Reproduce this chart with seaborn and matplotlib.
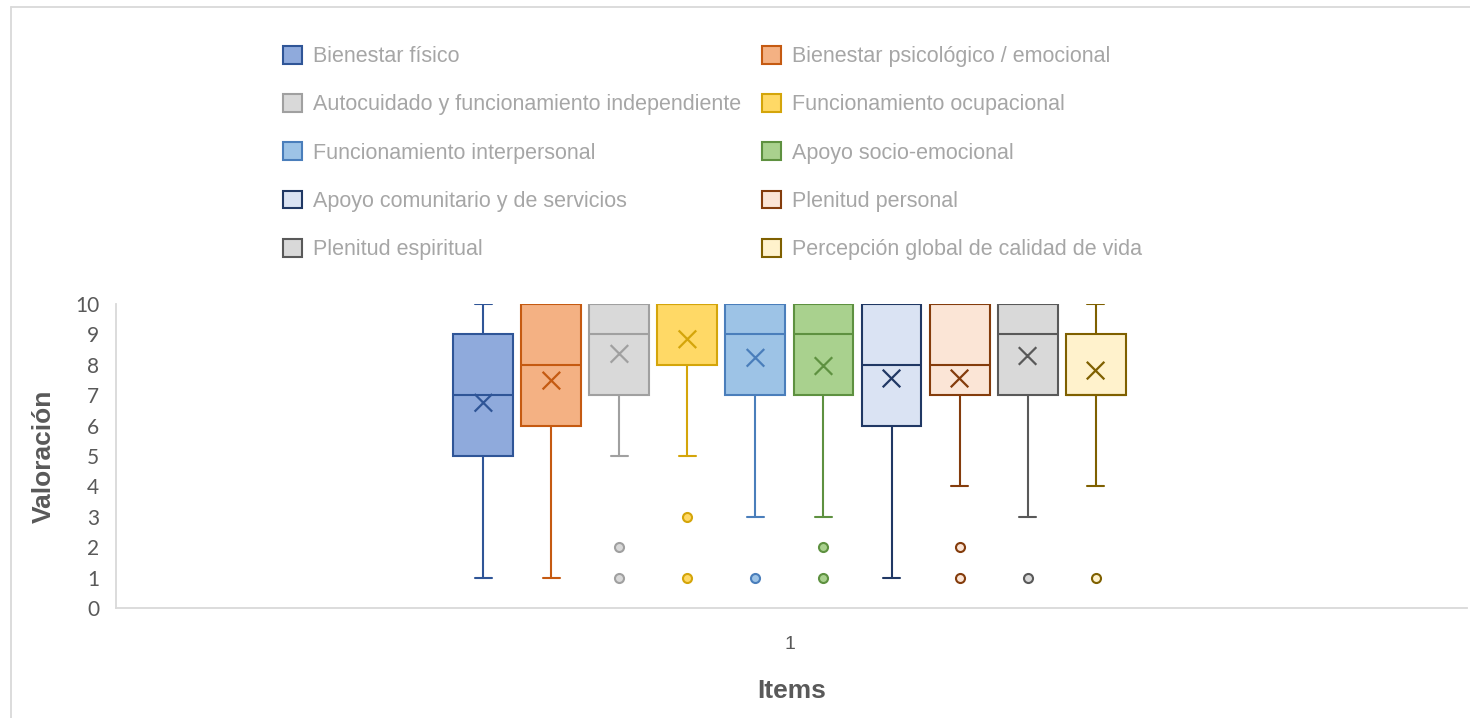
import numpy as np
import matplotlib
matplotlib.use("Agg")
import matplotlib.pyplot as plt
from matplotlib.patches import Patch
from matplotlib.lines import Line2D
import seaborn as sns

# ---- data -----------------------------------------------------------------
items = [
    "Bienestar físico",
    "Bienestar psicológico / emocional",
    "Autocuidado y funcionamiento independiente",
    "Funcionamiento ocupacional",
    "Funcionamiento interpersonal",
    "Apoyo socio-emocional",
    "Apoyo comunitario y de servicios",
    "Plenitud personal",
    "Plenitud espiritual",
    "Percepción global de calidad de vida",
]
category = "1"
q1 = [5, 6, 7, 8, 7, 7, 6, 7, 7, 7]
medians = [7, 8, 9, 10, 9, 9, 8, 8, 9, 7]
q3 = [9, 10, 10, 10, 10, 10, 10, 10, 10, 9]
whisker_low = [1, 1, 5, 5, 3, 3, 1, 4, 3, 4]
whisker_high = [10, 10, 10, 10, 10, 10, 10, 10, 10, 10]
means = [6.75, 7.48, 8.36, 8.84, 8.23, 7.96, 7.55, 7.55, 8.29, 7.81]
outliers = [[], [], [2, 1], [3, 1], [1], [2, 1], [], [2, 1], [1], [1]]
y_ticks = list(range(0, 11))

fill_colors = ["#8FAADC", "#F4B183", "#D9D9D9", "#FFD966", "#9DC3E6",
               "#A9D18E", "#DAE3F3", "#FBE5D6", "#D9D9D9", "#FFF2CC"]
edge_colors = ["#2F5597", "#C55A11", "#A0A0A0", "#D4A50A", "#4A7EBB",
               "#5E9140", "#203864", "#843C0C", "#595959", "#7F6000"]

# ---- style ----------------------------------------------------------------
sns.set_theme(style="white")
plt.rcParams["font.family"] = ["Liberation Sans", "DejaVu Sans"]
label_grey = "#595959"
legend_grey = "#A6A6A6"
axis_grey = "#D9D9D9"

fig = plt.figure(figsize=(14.7, 7.18), dpi=100)
ax = fig.add_axes([116 / 1470, 1 - 608 / 718, (1467 - 116) / 1470, (608 - 304) / 718])

# boxes are dodged side by side inside the single category
slot = 0.0505
box_w = 0.0445
cap_w = 0.0126
positions = (np.arange(len(items)) - (len(items) - 1) / 2) * slot

stats = []
for i, name in enumerate(items):
    stats.append(dict(label=name, q1=q1[i], med=medians[i], q3=q3[i],
                      whislo=whisker_low[i], whishi=whisker_high[i],
                      mean=means[i], fliers=outliers[i]))

art = ax.bxp(stats, positions=positions, widths=box_w, capwidths=cap_w,
             patch_artist=True, showmeans=False, manage_ticks=False)

lw = 1.5
for i in range(len(items)):
    ec, fc = edge_colors[i], fill_colors[i]
    art["boxes"][i].set(facecolor=fc, edgecolor=ec, linewidth=lw, zorder=2)
    art["medians"][i].set(color=ec, linewidth=lw, zorder=3)
    for ln in art["whiskers"][2 * i:2 * i + 2] + art["caps"][2 * i:2 * i + 2]:
        ln.set(color=ec, linewidth=lw, zorder=1)
    art["fliers"][i].set(marker="o", markersize=6.5, markerfacecolor=fc,
                         markeredgecolor=ec, markeredgewidth=1.5, linestyle="none")

# mean markers
sns.scatterplot(x=positions, y=means, hue=items, palette=edge_colors,
                marker="x", s=160, linewidth=1.6, legend=False, ax=ax, zorder=4)

ax.set_xlim(-0.5, 0.503)
ax.set_ylim(0, 10)
ax.set_yticks(y_ticks)
ax.set_yticklabels([str(t) for t in y_ticks], fontsize=15, color=label_grey,
                   family=["Lato", "DejaVu Sans"])
ax.set_xticks([0])
ax.set_xticklabels([category], fontsize=14, color=label_grey)
ax.tick_params(axis="y", length=0, pad=12)
ax.tick_params(axis="x", length=0, pad=20)
for side in ["top", "right"]:
    ax.spines[side].set_visible(False)
for side in ["left", "bottom"]:
    ax.spines[side].set_color(axis_grey)
    ax.spines[side].set_linewidth(1.3)
ax.grid(False)

ax.set_ylabel("Valoración", fontsize=19, fontweight="bold", color=label_grey, labelpad=14)
ax.set_xlabel("Items", fontsize=19, fontweight="bold", color=label_grey, labelpad=19)

# two-column legend above the plot, filled row by row
handles = [Patch(facecolor=fill_colors[i], edgecolor=edge_colors[i], linewidth=1.5)
           for i in range(len(items))]
left_idx = list(range(0, len(items), 2))
right_idx = list(range(1, len(items), 2))
legend_kw = dict(loc="upper left", frameon=False, fontsize=15.5, handlelength=0.88,
                 handleheight=0.88, handletextpad=0.5, labelspacing=1.255,
                 borderpad=0, borderaxespad=0, labelcolor=legend_grey)
leg1 = fig.legend([handles[i] for i in left_idx], [items[i] for i in left_idx],
                  bbox_to_anchor=(283 / 1470, 1 - 46 / 718), **legend_kw)
leg2 = fig.legend([handles[i] for i in right_idx], [items[i] for i in right_idx],
                  bbox_to_anchor=(762 / 1470, 1 - 46 / 718), **legend_kw)

# chart-area border
fig.add_artist(Line2D([10.5 / 1470, 10.5 / 1470], [0, 1 - 6.5 / 718],
                      transform=fig.transFigure, color=axis_grey, linewidth=1.3))
fig.add_artist(Line2D([10.5 / 1470, 1], [1 - 6.5 / 718, 1 - 6.5 / 718],
                      transform=fig.transFigure, color=axis_grey, linewidth=1.3))

fig.savefig("out.png", dpi=100, facecolor="white")
